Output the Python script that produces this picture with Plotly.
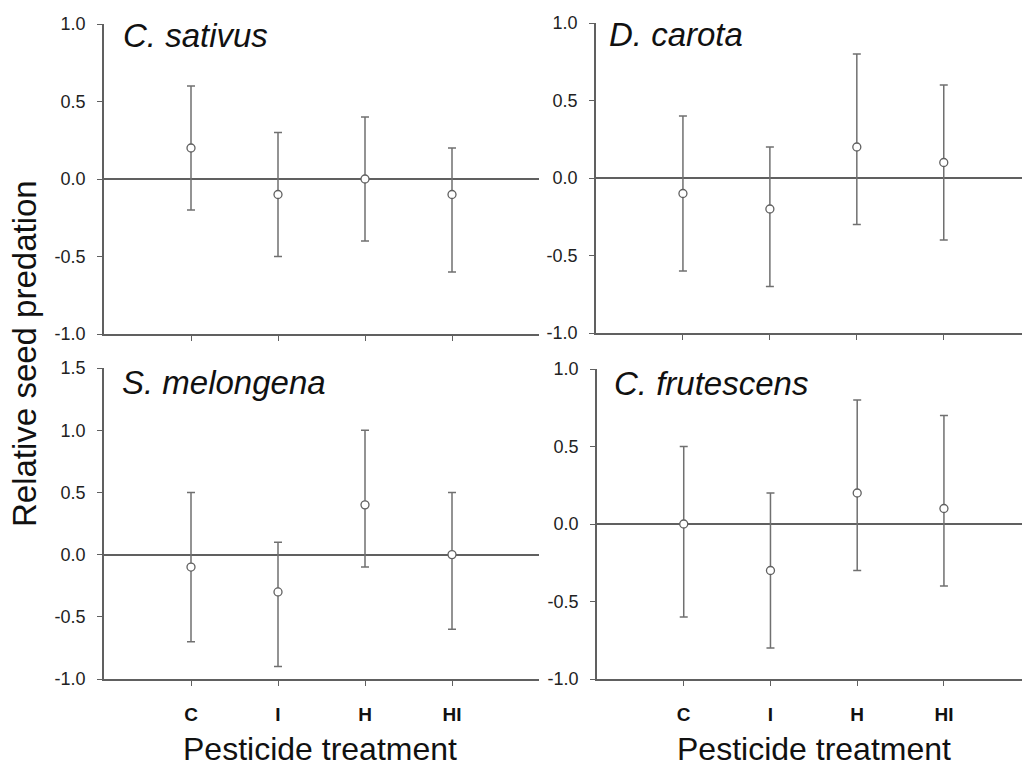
import plotly.graph_objects as go

categories = ["C", "I", "H", "HI"]
cat_pos = [1, 2, 3, 4]

species = ["C. sativus", "D. carota", "S. melongena", "C. frutescens"]

sativus_mean = [0.2, -0.1, 0.0, -0.1]
sativus_upper = [0.6, 0.3, 0.4, 0.2]
sativus_lower = [-0.2, -0.5, -0.4, -0.6]

carota_mean = [-0.1, -0.2, 0.2, 0.1]
carota_upper = [0.4, 0.2, 0.8, 0.6]
carota_lower = [-0.6, -0.7, -0.3, -0.4]

melongena_mean = [-0.1, -0.3, 0.4, 0.0]
melongena_upper = [0.5, 0.1, 1.0, 0.5]
melongena_lower = [-0.7, -0.9, -0.1, -0.6]

frutescens_mean = [0.0, -0.3, 0.2, 0.1]
frutescens_upper = [0.5, 0.2, 0.8, 0.7]
frutescens_lower = [-0.6, -0.8, -0.3, -0.4]

yticks_a = [-1.0, -0.5, 0.0, 0.5, 1.0]
yticks_b = [-1.0, -0.5, 0.0, 0.5, 1.0, 1.5]

panels = [
    (sativus_mean, sativus_upper, sativus_lower, yticks_a),
    (carota_mean, carota_upper, carota_lower, yticks_a),
    (melongena_mean, melongena_upper, melongena_lower, yticks_b),
    (frutescens_mean, frutescens_upper, frutescens_lower, yticks_a),
]

W, H = 1022, 769
FONT = "Arial, Liberation Sans, sans-serif"
AX = "#606060"
TXT = "#222222"

# pixel geometry of the panels (left, right, top, bottom)
geom = [
    (104, 539, 24, 334, 5.0),
    (596, 1022, 23, 333, 4.9),
    (104, 539, 368, 679, 5.0),
    (597, 1022, 369, 679, 4.9),
]

fig = go.Figure()
layout = {}
for i, ((mean, up, lo, yt), (x0, x1, y0, y1, xr)) in enumerate(zip(panels, geom)):
    n = "" if i == 0 else str(i + 1)
    plus = [u - m for u, m in zip(up, mean)]
    minus = [m - l for m, l in zip(mean, lo)]
    fig.add_trace(go.Scatter(
        x=cat_pos, y=mean, mode="markers",
        xaxis="x" + n, yaxis="y" + n,
        marker=dict(symbol="circle", size=8, color="white",
                    line=dict(color="#606060", width=1.3)),
        error_y=dict(type="data", symmetric=False, array=plus, arrayminus=minus,
                     color="#707070", thickness=1.5, width=4),
        showlegend=False, cliponaxis=False,
    ))
    bottom = i >= 2
    layout["xaxis" + n] = dict(
        domain=[x0 / W, x1 / W], anchor="y" + n, range=[0, xr],
        tickvals=cat_pos, ticktext=categories if bottom else ["", "", "", ""],
        ticks="outside", ticklen=5, tickwidth=1.3, tickcolor=AX,
        showline=True, linecolor=AX, linewidth=1.5,
        showgrid=False, zeroline=False, automargin=False,
        ticklabelstandoff=12,
        tickfont=dict(family=FONT, size=19, color="#111111", weight="bold"),
    )
    layout["yaxis" + n] = dict(
        domain=[1 - y1 / H, 1 - y0 / H], anchor="x" + n,
        range=[yt[0], yt[-1]],
        tickvals=yt, ticktext=[f"{v:.1f}" for v in yt],
        ticks="outside", ticklen=5, tickwidth=1.3, tickcolor=AX,
        showline=True, linecolor=AX, linewidth=1.5, automargin=False,
        ticklabelstandoff=8,
        showgrid=False, zeroline=True, zerolinecolor=AX, zerolinewidth=1.5,
        tickfont=dict(family=FONT, size=18, color=TXT),
    )

title_pos = [(121, 36), (607, 34), (120, 382), (612, 384)]
annotations = []
for name, (px, py) in zip(species, title_pos):
    annotations.append(dict(
        x=px / W, y=1 - py / H, xref="paper", yref="paper",
        xanchor="left", yanchor="middle", showarrow=False,
        text=f"<i>{name}</i>", font=dict(family=FONT, size=33, color="#111111"),
    ))
for cx in (320, 814):
    annotations.append(dict(
        x=cx / W, y=1 - 749 / H, xref="paper", yref="paper",
        xanchor="center", yanchor="middle", showarrow=False,
        text="Pesticide treatment", font=dict(family=FONT, size=32, color="#111111"),
    ))
annotations.append(dict(
    x=25 / W, y=1 - 354 / H, xref="paper", yref="paper",
    xanchor="center", yanchor="middle", showarrow=False, textangle=-90,
    text="Relative seed predation", font=dict(family=FONT, size=33, color="#111111"),
))

fig.update_layout(
    width=W, height=H, margin=dict(l=0, r=0, t=0, b=0, autoexpand=False),
    paper_bgcolor="white", plot_bgcolor="white",
    annotations=annotations, **layout,
)

fig.write_html("out.html")
